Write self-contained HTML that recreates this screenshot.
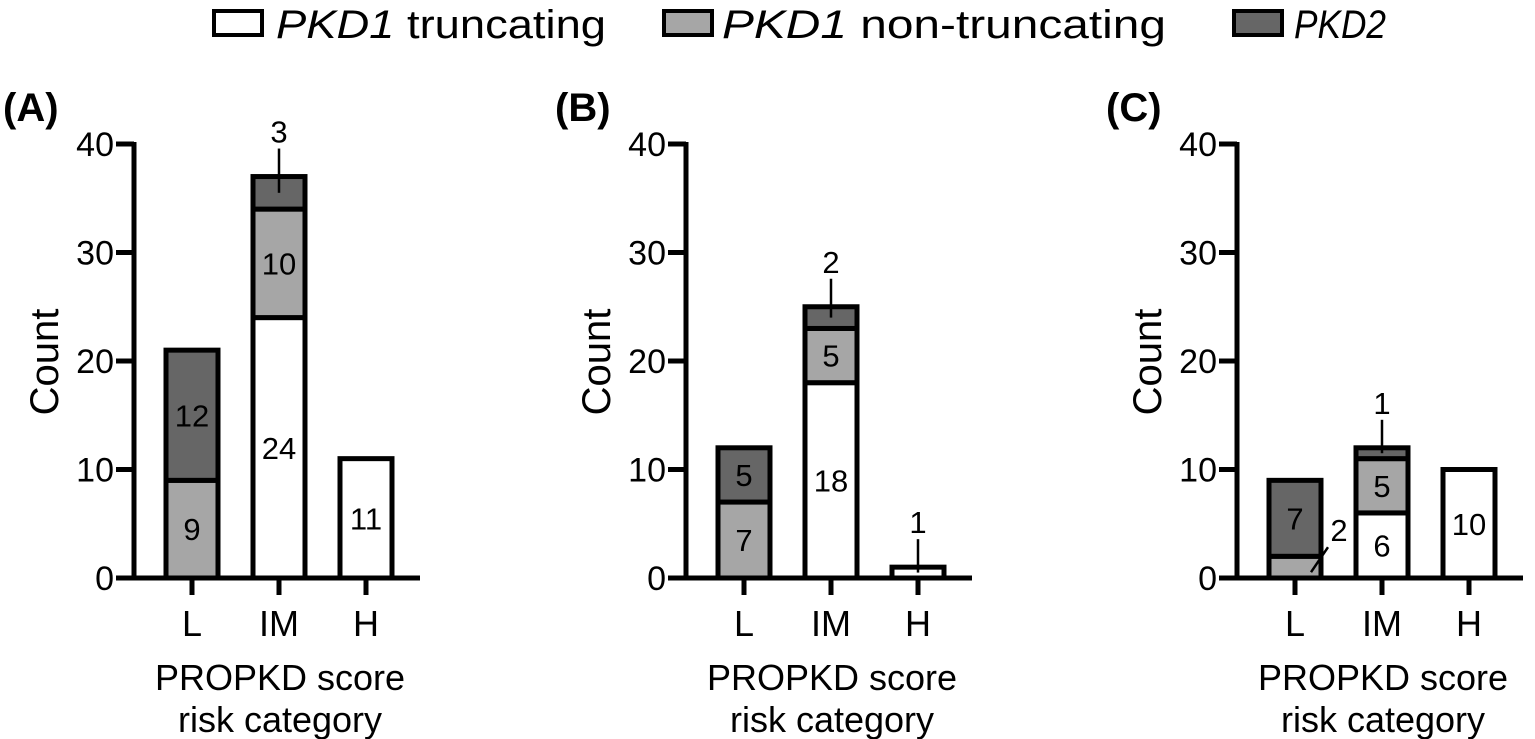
<!DOCTYPE html>
<html><head><meta charset="utf-8"><style>
html,body{margin:0;padding:0;background:#fff;}
svg{display:block;font-family:"Liberation Sans",Arial,sans-serif;}
</style></head><body>
<svg id="chart" width="1535" height="739" viewBox="0 0 1535 739" xmlns="http://www.w3.org/2000/svg">
<g>
 <g>
  <rect x="214" y="11" width="48" height="24" fill="#fff" stroke="#000" stroke-width="4"/>
  <text x="276" y="38" font-size="40" textLength="330" lengthAdjust="spacingAndGlyphs"><tspan font-style="italic">PKD1</tspan> truncating</text>
 </g>
 <g>
  <rect x="664" y="11" width="48" height="24" fill="#a6a6a6" stroke="#000" stroke-width="4"/>
  <text x="722" y="38" font-size="40" textLength="444" lengthAdjust="spacingAndGlyphs"><tspan font-style="italic">PKD1</tspan> non-truncating</text>
 </g>
 <g>
  <rect x="1234" y="11" width="48" height="24" fill="#666" stroke="#000" stroke-width="4"/>
  <text x="1294" y="38" font-size="40" font-style="italic" textLength="92" lengthAdjust="spacingAndGlyphs">PKD2</text>
 </g>
</g>
</svg>
<script>
const categories = ["L","IM","H"];
const panelNames = ["(A)","(B)","(C)"];
const truncA = [0,24,11], nonTruncA = [9,10,0], pkd2A = [12,3,0];
const truncB = [0,18,1], nonTruncB = [7,5,0], pkd2B = [5,2,0];
const truncC = [0,6,10], nonTruncC = [2,5,0], pkd2C = [7,1,0];
const yTicks = [0,10,20,30,40];

const svg = document.getElementById('chart');
const NS = 'http://www.w3.org/2000/svg';
function mk(tag, attrs, parent){const e=document.createElementNS(NS,tag);for(const k in attrs)e.setAttribute(k,attrs[k]);parent.appendChild(e);return e;}

const panels = [
 {dx:0, tr:truncA, nt:nonTruncA, p2:pkd2A, key:'a'},
 {dx:552, tr:truncB, nt:nonTruncB, p2:pkd2B, key:'b'},
 {dx:1103, tr:truncC, nt:nonTruncC, p2:pkd2C, key:'c'}
];
const y0 = 578, pxPerUnit = 108.5;
function yScale(v){return y0 - v*pxPerUnit/10;}
const fills = ['#fff','#a6a6a6','#666'];
const segNames = ['pkd1-truncating','pkd1-non-truncating','pkd2'];
const barW = 52;

panels.forEach((p,pi)=>{
  const ax = 134 + p.dx;
  function xScale(i){return 192 + p.dx + i*87;}
  const g = mk('g',{},svg);
  
  
  const lab = mk('text',{x:3+p.dx,y:121,'font-size':40,'font-weight':'bold'},g);
  lab.textContent = panelNames[pi];
  
  
  categories.forEach((c,i)=>{
    const vals=[p.tr[i],p.nt[i],p.p2[i]];
    let cum=0;
    const cx=xScale(i);
    vals.forEach((v,s)=>{
      if(v<=0) return;
      const yt=yScale(cum+v), yb=yScale(cum);
      const r=mk('rect',{x:cx-barW/2,y:yt,width:barW,height:yb-yt,fill:fills[s],stroke:'#000','stroke-width':5},g);
      
      
      const mid=(yt+yb)/2;
      let t;
      if(v>=4){
        t=mk('text',{x:cx,y:mid+11,'font-size':31,'text-anchor':'middle'},g);
      } else if(s===1 && cum===0 && i===0){
        mk('line',{x1:cx+16,y1:mid+5,x2:cx+33,y2:mid-20,stroke:'#000','stroke-width':2.5},g);
        t=mk('text',{x:cx+44,y:mid-26,'font-size':31,'text-anchor':'middle'},g);
      } else {
        const top=yScale(cum+v);
        mk('line',{x1:cx,y1:mid,x2:cx,y2:top-28,stroke:'#000','stroke-width':2.5},g);
        t=mk('text',{x:cx,y:top-34,'font-size':31,'text-anchor':'middle'},g);
      }
      t.textContent=v;
      
      
      cum+=v;
    });
    const tk=mk('line',{x1:cx,y1:y0,x2:cx,y2:y0+17,stroke:'#000','stroke-width':5},g);
    
    
    const tl=mk('text',{x:cx,y:636,'font-size':36,'text-anchor':'middle'},g);
    tl.textContent=c;
    
    
  });
  const ya=mk('line',{x1:ax,y1:yScale(40)-2,x2:ax,y2:y0+2,stroke:'#000','stroke-width':5},g);
  
  
  const xa=mk('line',{x1:ax-18,y1:y0,x2:ax+286,y2:y0,stroke:'#000','stroke-width':5},g);
  
  
  yTicks.forEach(v=>{
    const y=yScale(v);
    const l=mk('line',{x1:ax-18,y1:y,x2:ax,y2:y,stroke:'#000','stroke-width':5},g);
    
    
    const t=mk('text',{x:ax-20,y:y+12,'font-size':34,'text-anchor':'end'},g);
    t.textContent=v;
    
    
  });
  const yt=mk('text',{x:0,y:0,'font-size':40,'text-anchor':'middle',transform:'translate('+(58+p.dx)+',362) rotate(-90)'},g);
  yt.textContent='Count';
  
  
  const xt=mk('text',{x:280+p.dx,y:690,'font-size':36,'text-anchor':'middle'},g);
  xt.textContent='PROPKD score';
  
  
  const xt2=mk('text',{x:280+p.dx,y:732,'font-size':36,'text-anchor':'middle'},g);
  xt2.textContent='risk category';
  
  
});
</script>
</body></html>
